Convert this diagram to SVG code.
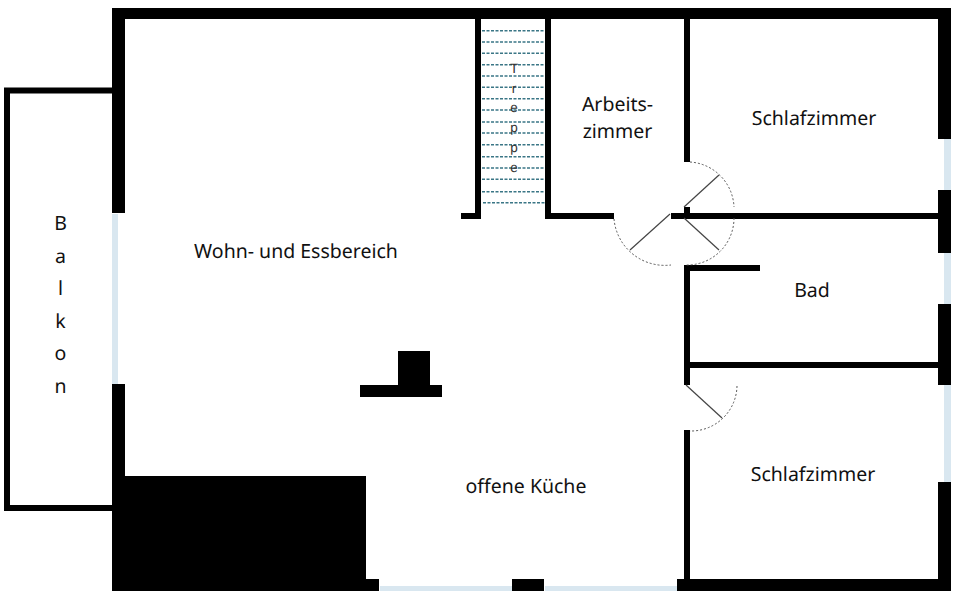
<svg xmlns="http://www.w3.org/2000/svg" width="960" height="598" viewBox="0 0 960 598">
<style>
.wall{fill:#000}
.glass{fill:#d9e7f0}
.step{stroke:#3a7686;stroke-width:1.4;stroke-dasharray:3 1.5;fill:none}
.arc{stroke:#555;stroke-width:1;stroke-dasharray:2 2;fill:none}
.leaf{stroke:#444;stroke-width:1.2;fill:none}
text{font-family:"Noto Sans","Liberation Sans",sans-serif;fill:#111;text-anchor:middle;text-rendering:geometricPrecision}
.room{font-size:19.5px}
.bal{font-size:19.5px}
.st{font-size:13.5px;font-family:"Liberation Sans",Arial,sans-serif;fill:#333}
</style>
<rect width="960" height="598" fill="#fff"/>
<g id="walls">
<rect class="wall" x="112" y="8" width="839" height="11"/>
<rect class="wall" x="112" y="8" width="13" height="205"/>
<rect class="wall" x="112" y="384" width="13" height="207"/>
<rect class="wall" x="938" y="8" width="13" height="131"/>
<rect class="wall" x="938" y="190" width="13" height="63"/>
<rect class="wall" x="938" y="304" width="13" height="81"/>
<rect class="wall" x="938" y="482" width="13" height="109"/>
<rect class="wall" x="112" y="476" width="254" height="115"/>
<rect class="wall" x="366" y="579" width="13" height="12"/>
<rect class="wall" x="512" y="579" width="32" height="12"/>
<rect class="wall" x="677" y="579" width="274" height="12"/>
<rect class="wall" x="475" y="19" width="6" height="200"/>
<rect class="wall" x="461" y="213" width="20" height="6"/>
<rect class="wall" x="545" y="19" width="6" height="200"/>
<rect class="wall" x="545" y="213" width="69" height="6"/>
<rect class="wall" x="684" y="19" width="6" height="143"/>
<rect class="wall" x="684" y="207" width="6" height="6"/>
<rect class="wall" x="671" y="213" width="267" height="6"/>
<rect class="wall" x="684" y="265" width="6" height="120"/>
<rect class="wall" x="684" y="265" width="76" height="6"/>
<rect class="wall" x="684" y="362" width="254" height="6"/>
<rect class="wall" x="684" y="430" width="6" height="149"/>
</g>
<g id="windows">
<rect class="glass" x="112" y="214" width="6" height="170"/>
<rect class="glass" x="944" y="139" width="7" height="51"/>
<rect class="glass" x="944" y="253" width="7" height="51"/>
<rect class="glass" x="944" y="385" width="7" height="97"/>
<rect class="glass" x="380" y="586" width="132" height="5"/>
<rect class="glass" x="545" y="586" width="132" height="5"/>
</g>
<g id="balkon">
<path d="M112 90.500H7V508H112" fill="none" stroke="#000" stroke-width="6"/>
<g class="bal">
<text x="60.500" y="230">B</text>
<text x="60.500" y="263">a</text>
<text x="60.500" y="295">l</text>
<text x="60.500" y="328">k</text>
<text x="60.500" y="360">o</text>
<text x="60.500" y="393">n</text>
</g>
</g>
<g id="kamin">
<rect class="wall" x="398" y="351" width="32" height="34"/>
<rect class="wall" x="360" y="385" width="82" height="12"/>
</g>
<g id="treppe">
<path class="step" d="M482 30.700H544M482 42H544M482 53.300H544M482 64.700H544M482 76H544M482 87.300H544M482 98.700H544M482 110H544M482 122H544M482 133H544M482 144.700H544M482 156.700H544M482 168H544M482 179.300H544M482 191.700H544M483 202.700H545"/>
<text class="st" x="514" y="73">T</text>
<text class="st" x="514" y="93">r</text>
<text class="st" x="514" y="112">e</text>
<text class="st" x="514" y="132">p</text>
<text class="st" x="514" y="152">p</text>
<text class="st" x="514" y="172">e</text>
</g>
<g id="connectors">
<path class="arc" d="M690 162A47 47 0 0 1 734 207"/>
<path class="leaf" d="M684 207L719 175"/>
<path class="arc" d="M734 218A47 47 0 0 1 686 265"/>
<path class="leaf" d="M684 218L719 250"/>
<path class="arc" d="M614 219A51 51 0 0 0 671 265"/>
<path class="leaf" d="M670 214L630 250"/>
<path class="arc" d="M737 386A46 46 0 0 1 690 431"/>
<path class="leaf" d="M686 385L722 418"/>
</g>
<g id="wohn"><text class="room" x="296" y="258">Wohn- und Essbereich</text></g>
<g id="arbeits"><text class="room" x="617.500" y="111">Arbeits-</text><text class="room" x="617.500" y="138">zimmer</text></g>
<g id="schlaf1"><text class="room" x="814" y="125">Schlafzimmer</text></g>
<g id="bad"><text class="room" x="812" y="297">Bad</text></g>
<g id="schlaf2"><text class="room" x="813" y="481">Schlafzimmer</text></g>
<g id="kueche"><text class="room" x="526" y="493">offene Küche</text></g>
</svg>
